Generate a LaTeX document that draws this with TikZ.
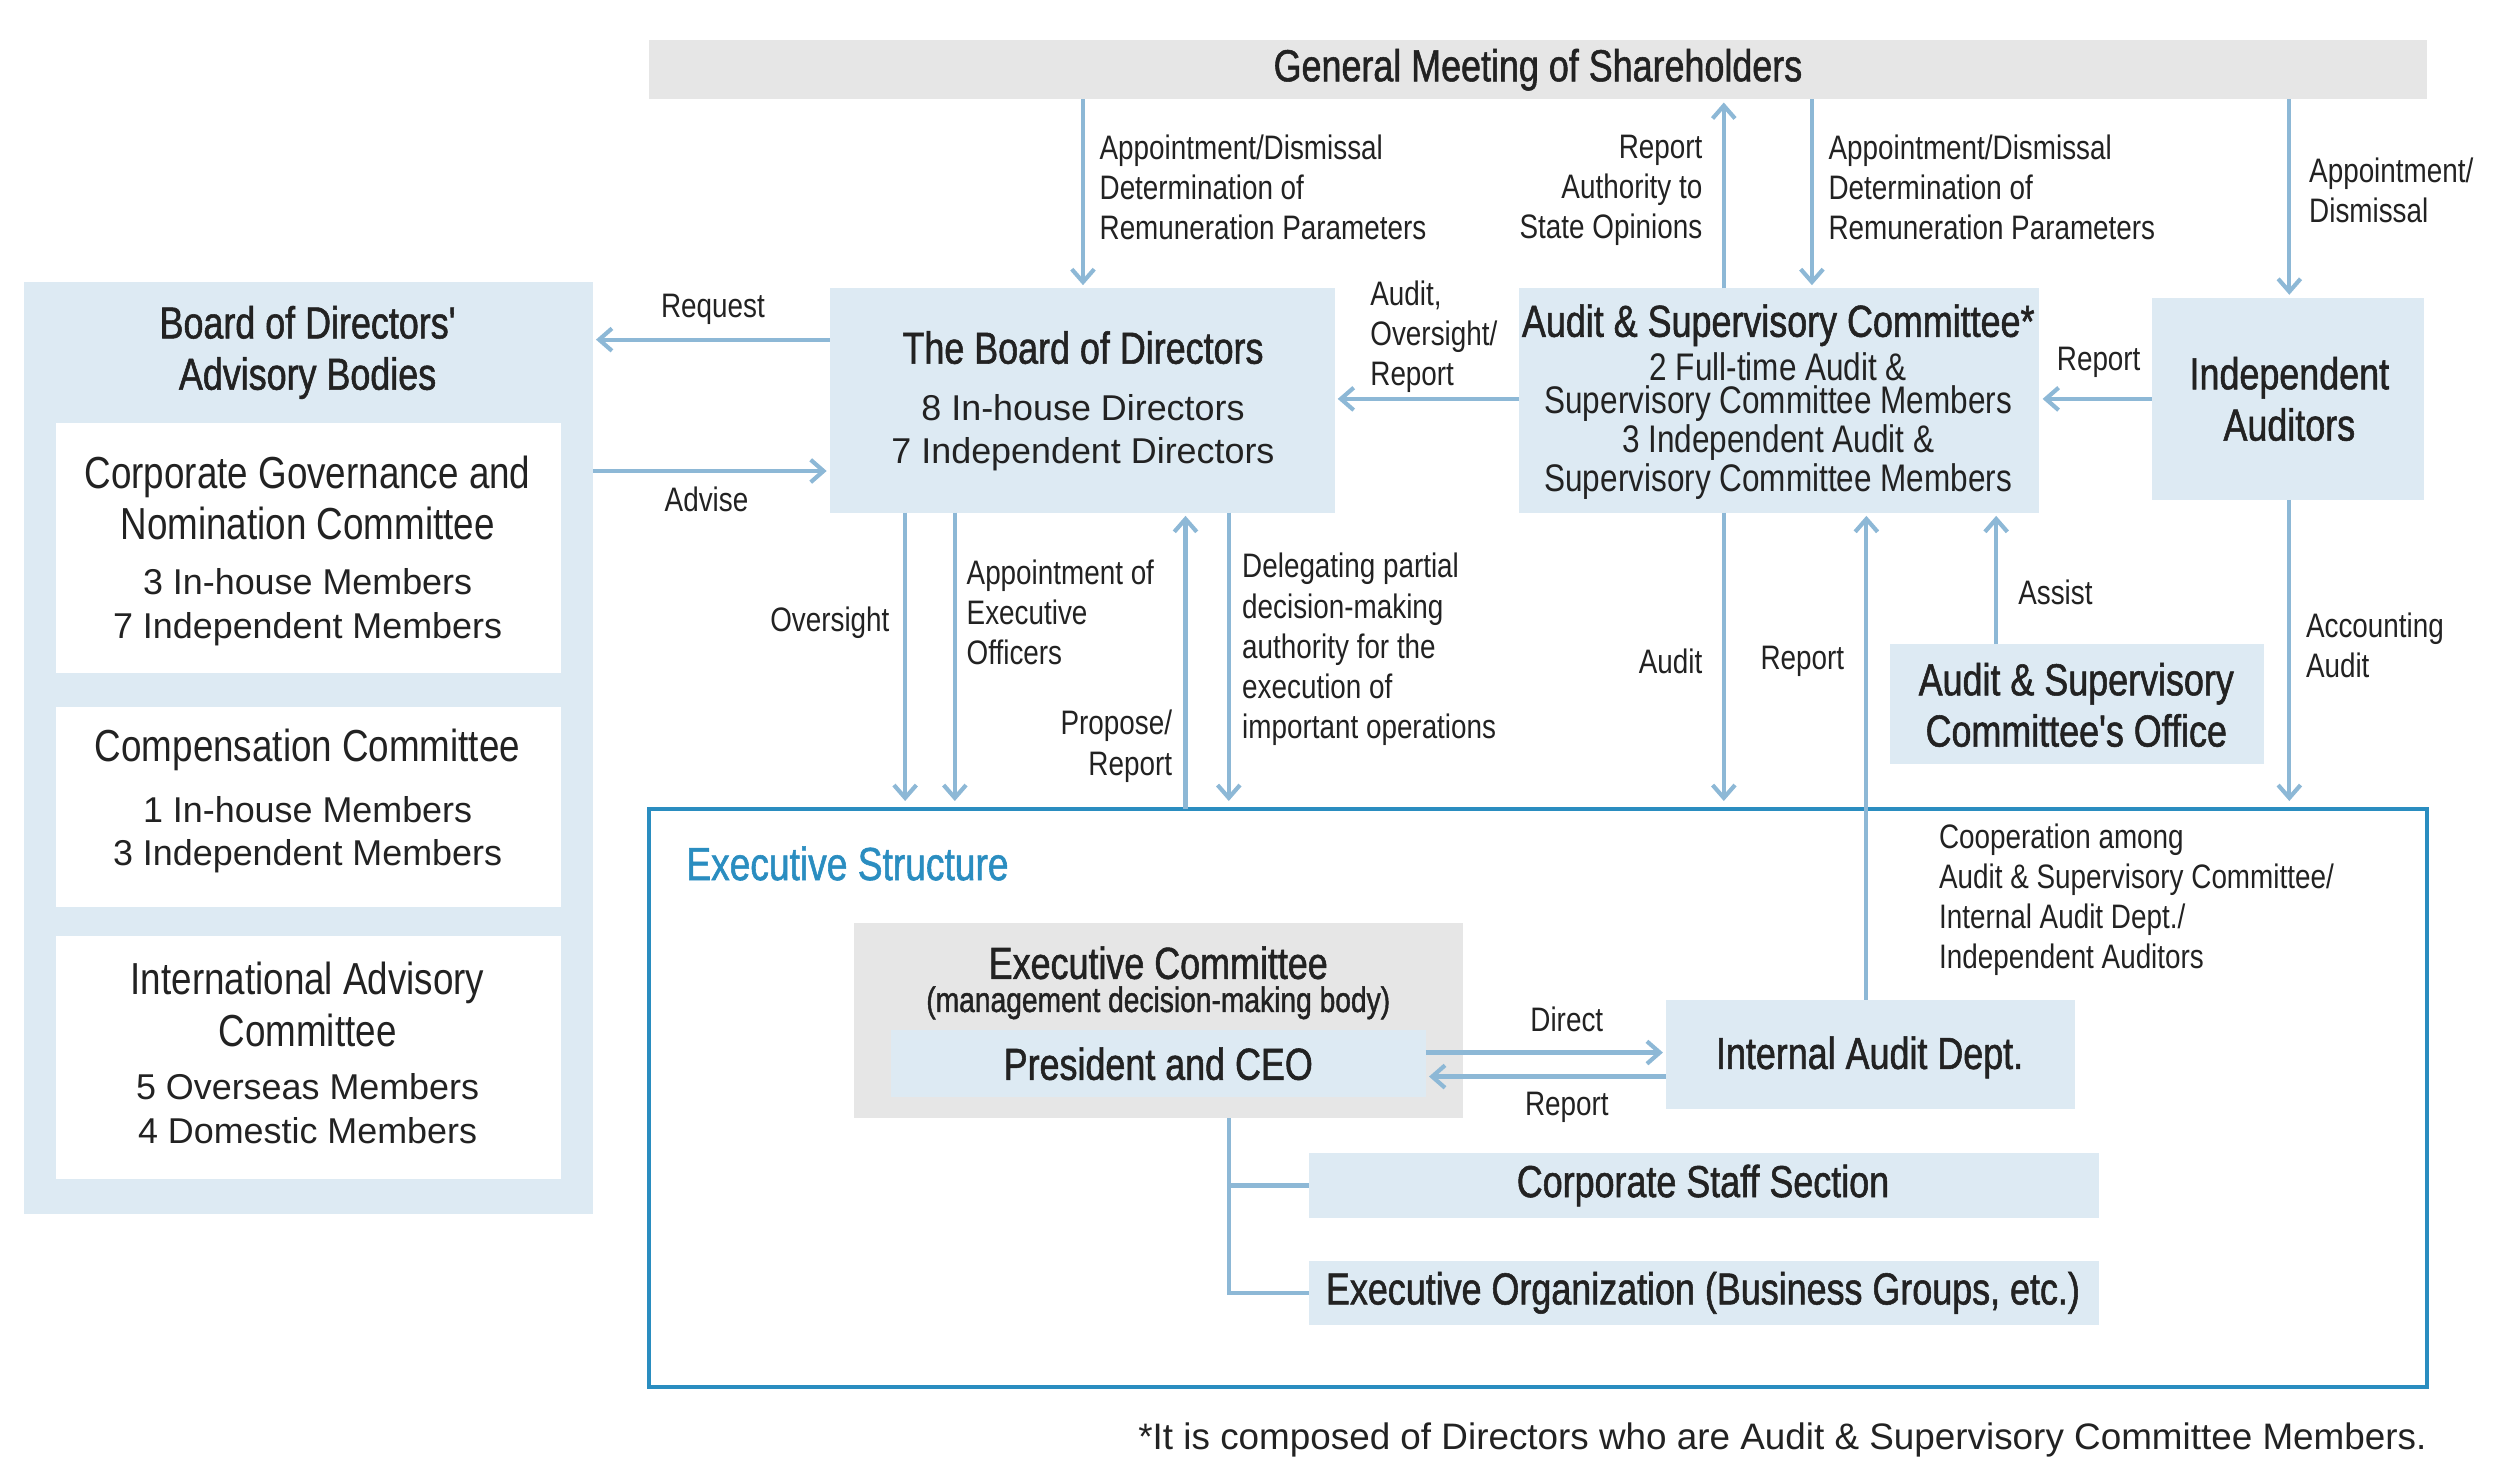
\documentclass[tikz,border=0pt]{standalone}
\usepackage{fontspec}
\setmainfont{Liberation Sans}
\newfontfamily\cond{Liberation Sans}[FakeStretch=0.82]
\newfontfamily\condb{Liberation Sans}[FakeStretch=0.8,FakeBold=1.2]
\usetikzlibrary{arrows.meta}
\definecolor{lb}{HTML}{DDEAF3}
\definecolor{ar}{HTML}{8DB8D6}
\definecolor{eb}{HTML}{2A8DC0}
\definecolor{gb}{HTML}{E6E6E6}
\definecolor{tx}{HTML}{222222}
\tikzset{
 box/.style={fill=lb,draw=none},
 wbox/.style={fill=white,draw=none},
 con/.style={draw=ar,line width=1.3pt,-{Straight Barb[length=4pt,width=7pt]}},
 ln/.style={draw=ar,line width=1.3pt},
 lab/.style={font=\cond\fontsize{10.6}{12.5}\selectfont,text=tx,inner sep=0pt,align=left},
 labr/.style={lab,align=right},
 ttl/.style={font=\condb\fontsize{14}{16}\selectfont,text=tx,inner sep=0pt,align=center},
 ttlr/.style={font=\cond\fontsize{14}{16}\selectfont,text=tx,inner sep=0pt,align=center},
 sub/.style={font=\fontsize{11.2}{13.5}\selectfont,text=tx,inner sep=0pt,align=center},
}
\begin{document}
\begin{tikzpicture}[x=0.5pt,y=-0.5pt]
\useasboundingbox (0,0) rectangle (1568,919);
\node[fill=gb,minimum width=555pt,minimum height=18.5pt,inner sep=0] (gm) at (960,43.5) {};
\node[ttl] at (gm) {General Meeting of Shareholders};
\fill[lb] (15,176) rectangle (370,758);
\node[ttl] (adv) at (192,220) {Board of Directors'\\Advisory Bodies};
\fill[white] (35,264) rectangle (350,420);
\fill[white] (35,441) rectangle (350,566);
\fill[white] (35,584) rectangle (350,736);
\node[ttlr] (cg) at (192,311) {Corporate Governance and\\Nomination Committee};
\node[sub] at (192,379) {3 In-house Members\\7 Independent Members};
\node[ttlr] (cc) at (192,468) {Compensation Committee};
\node[sub] at (192,521) {1 In-house Members\\3 Independent Members};
\node[ttlr] (iac) at (192,627) {International Advisory\\Committee};
\node[sub] at (192,692) {5 Overseas Members\\4 Domestic Members};
\fill[lb] (518,180) rectangle (833,320);
\node[ttl] (bod) at (676,217) {The Board of Directors};
\node[sub] at (676,270) {8 In-house Directors\\7 Independent Directors};
\fill[lb] (948,180) rectangle (1273,320);
\node[ttl] (asc) at (1110,203) {Audit \& Supervisory Committee*};
\node[font=\cond\fontsize{12}{10.5}\selectfont,text=tx,align=center,inner sep=0] at (1110,266) {2 Full-time Audit \&\\Supervisory Committee Members\\3 Independent Audit \&\\Supervisory Committee Members};
\fill[lb] (1343,186) rectangle (1513,312);
\node[ttl] (ia) at (1429,249) {Independent\\Auditors};
\fill[lb] (1180,402) rectangle (1413,477);
\node[ttl] (off) at (1296,440) {Audit \& Supervisory\\Committee's Office};
\draw[eb,line width=1.2pt] (405,505) rectangle (1515,866);
\node[font=\condb\fontsize{14.5}{16}\selectfont,text=eb,anchor=west,inner sep=0] at (428,539) {Executive Structure};
\fill[gb] (533,576) rectangle (913,698);
\node[ttl] at (723,601) {Executive Committee};
\node[font=\condb\fontsize{11}{13}\selectfont,text=tx,inner sep=0] at (723,626) {(management decision-making body)};
\fill[lb] (556,643) rectangle (890,685);
\node[ttl] (ceo) at (723,664) {President and CEO};
\fill[lb] (1040,624) rectangle (1295,692);
\node[ttl] (iad) at (1167,660) {Internal Audit Dept.};
\fill[lb] (817,720) rectangle (1310,760);
\node[ttl] (css) at (1063,740) {Corporate Staff Section};
\fill[lb] (817,787) rectangle (1310,827);
\node[ttl] (eo) at (1063,807) {Executive Organization (Business Groups, etc.)};
\node[font=\fontsize{11.5}{13}\selectfont,text=tx,anchor=east,inner sep=0] (fn) at (1515,899) {*It is composed of Directors who are Audit \& Supervisory Committee Members.};
\draw[con] (676,62) -- (676,178);
\node[lab,anchor=north west] at (686,84) {Appointment/Dismissal\\Determination of\\Remuneration Parameters};
\draw[con] (1076,180) -- (1076,64);
\node[labr,anchor=north east] at (1063,84) {Report\\Authority to\\State Opinions};
\draw[con] (1131,62) -- (1131,178);
\node[lab,anchor=north west] at (1141,84) {Appointment/Dismissal\\Determination of\\Remuneration Parameters};
\draw[con] (1429,62) -- (1429,184);
\node[lab,anchor=north west] at (1441,98) {Appointment/\\Dismissal};
\draw[con] (518,212) -- (372,212);
\node[lab] at (445,193) {Request};
\draw[con] (370,294) -- (516,294);
\node[lab] at (441,312) {Advise};
\draw[con] (948,249) -- (835,249);
\node[lab,anchor=north west] at (855,175) {Audit,\\Oversight/\\Report};
\draw[con] (1343,249) -- (1275,249);
\node[lab] at (1310,226) {Report};
\draw[con] (565,320) -- (565,500);
\node[lab] at (518,389) {Oversight};
\draw[con] (596,320) -- (596,500);
\node[lab,anchor=north west] at (603,349) {Appointment of\\Executive\\Officers};
\draw[con] (740,505) -- (740,322);
\node[labr,anchor=north east] at (732,443) {Propose/\\Report};
\draw[con] (767,320) -- (767,500);
\node[lab,anchor=north west] at (775,345) {Delegating partial\\decision-making\\authority for the\\execution of\\important operations};
\draw[con] (1076,320) -- (1076,500);
\node[lab,anchor=east] at (1063,413) {Audit};
\draw[con] (1165,624) -- (1165,322);
\node[lab] at (1125,413) {Report};
\draw[con] (1246,402) -- (1246,322);
\node[lab] at (1283,370) {Assist};
\draw[con] (1429,312) -- (1429,500);
\node[lab,anchor=north west] at (1439,382) {Accounting\\Audit};
\node[lab,anchor=north west] at (1210,514) {Cooperation among\\Audit \& Supervisory Committee/\\Internal Audit Dept./\\Independent Auditors};
\draw[con] (890,657) -- (1038,657);
\node[lab] at (978,636) {Direct};
\draw[con] (1040,672) -- (892,672);
\node[lab] at (978,691) {Report};
\draw[ln] (767,698) -- (767,807) -- (817,807);
\draw[ln] (767,740) -- (817,740);
\end{tikzpicture}
\end{document}
